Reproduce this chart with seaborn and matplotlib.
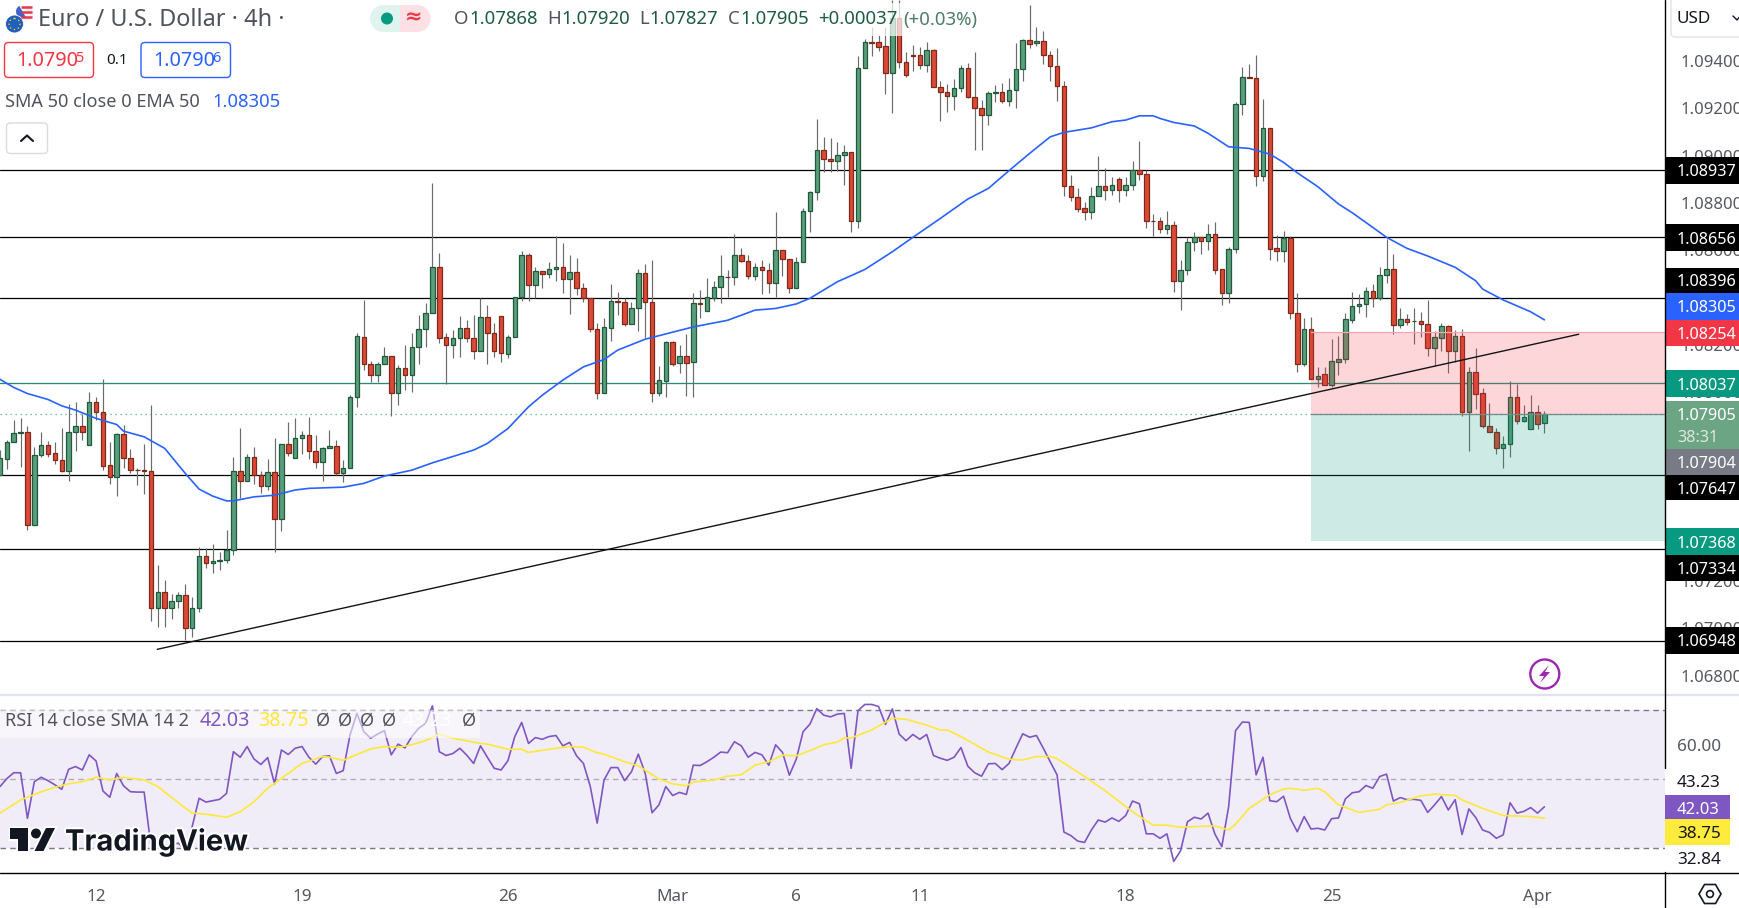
import numpy as np
import pandas as pd
import matplotlib
matplotlib.use("Agg")
import matplotlib.pyplot as plt
from matplotlib.patches import Rectangle, FancyBboxPatch, Circle, Polygon, Wedge
import matplotlib.patheffects as pe
import seaborn as sns

# EURUSD 4h candles, prices in points (1e-5)
opens = [
    107648,107718,107786,107825,107829,107439,107731,107774,107741,107711,
    107667,107829,107855,107774,107956,107914,107690,107639,107821,107719,
    107669,107668,107664,107085,107153,107085,107115,107140,107000,107085,
    107305,107275,107284,107287,107330,107664,107622,107724,107648,107601,
    107660,107464,107779,107719,107804,107817,107749,107702,107762,107770,
    107659,107677,107977,108234,108117,108073,108117,108151,107997,108100,
    108073,108189,108265,108333,108527,108231,108200,108227,108269,108227,
    108171,108316,108248,108320,108162,108231,108400,108578,108451,108510,
    108498,108519,108527,108477,108506,108438,108399,108265,107997,108272,
    108383,108379,108289,108354,108502,108379,107997,108048,108210,108121,
    108151,108125,108375,108344,108399,108443,108486,108485,108578,108553,
    108492,108527,108514,108462,108599,108564,108438,108548,108764,108844,
    109022,108984,108976,109001,109014,108722,109369,109479,109479,109462,
    109351,109580,109394,109424,109424,109384,109445,109291,109270,109253,
    109284,109369,109246,109200,109173,109266,109268,109232,109276,109365,
    109487,109475,109483,109424,109377,109296,108870,108826,108777,108763,
    108828,108870,108856,108899,108853,108874,108937,108921,108722,108721,
    108691,108705,108471,108514,108633,108654,108640,108667,108519,108420,
    108603,109217,109331,109330,108915,109115,108608,108595,108651,108333,
    108117,108265,108056,108076,108031,108128,108138,108306,108362,108371,
    108427,108399,108493,108519,108282,108307,108300,108299,108286,108187,
    108230,108278,108175,108235,107917,108083,107994,107857,107832,107764,
    107781,107977,107879,107841,107914,107868,
]
highs = [
    107755,107797,107882,107889,107856,107769,107831,107793,107786,107848,
    107949,107958,107907,108000,107979,108055,107789,107825,107860,107759,
    107679,107780,107945,107268,107205,107146,107153,107188,107131,107346,
    107339,107357,107323,107416,107725,107848,107738,107767,107667,107717,
    107803,107780,107873,107890,107836,107894,107818,107766,107839,107797,
    107712,107987,108248,108389,108131,108127,108190,108151,108114,108199,
    108248,108326,108375,108884,108587,108251,108262,108322,108305,108326,
    108396,108368,108290,108320,108241,108400,108596,108587,108530,108510,
    108551,108660,108629,108578,108565,108459,108399,108293,108311,108455,
    108424,108399,108382,108519,108540,108558,108110,108216,108217,108199,
    108245,108417,108431,108481,108471,108578,108516,108668,108608,108578,
    108544,108558,108544,108761,108599,108564,108572,108777,108849,109153,
    109078,109073,109056,109043,109014,109421,109493,109545,109510,109545,
    109658,109658,109437,109468,109461,109480,109449,109315,109303,109322,
    109383,109393,109439,109235,109274,109298,109305,109327,109478,109492,
    109637,109545,109525,109441,109454,109315,108918,108861,108805,108866,
    108998,108946,108911,108911,108911,108977,109062,108939,108753,108741,
    108765,108723,108558,108654,108675,108654,108709,108718,108519,108612,
    109225,109375,109387,109425,109239,109115,108664,108681,108660,108417,
    108311,108316,108107,108107,108224,108237,108335,108421,108413,108445,
    108457,108530,108646,108584,108354,108330,108354,108337,108389,108258,
    108290,108283,108262,108265,108107,108185,108015,107952,107846,107814,
    108046,108034,107945,107987,107945,107920,
]
lows = [
    107648,107674,107786,107684,107416,107435,107726,107726,107695,107662,
    107625,107750,107797,107774,107882,107670,107611,107560,107677,107659,
    107607,107569,107031,107007,107007,107038,107084,106951,106965,107067,
    107253,107236,107247,107275,107308,107552,107622,107611,107574,107585,
    107322,107413,107729,107719,107738,107718,107679,107621,107762,107648,
    107617,107677,107938,108093,108042,108042,108117,107899,107945,108008,
    108001,108118,108192,108333,108206,108032,108144,108149,108213,108141,
    108171,108118,108149,108127,108144,108231,108386,108386,108396,108439,
    108481,108471,108417,108331,108408,108382,108255,107969,107997,108217,
    108326,108279,108289,108259,108227,107959,107983,107980,108110,108082,
    107984,107980,108313,108344,108385,108378,108400,108452,108550,108476,
    108474,108414,108417,108403,108491,108420,108438,108548,108678,108812,
    108932,108932,108936,108875,108678,108694,109369,109423,109444,109260,
    109181,109369,109334,109359,109365,109355,109291,109148,109184,109193,
    109270,109242,109025,109025,109129,109227,109224,109210,109201,109317,
    109456,109462,109387,109317,109232,108830,108808,108763,108727,108732,
    108828,108812,108833,108804,108830,108854,108897,108694,108660,108671,
    108668,108424,108347,108495,108598,108584,108600,108499,108366,108375,
    108589,109172,109330,108871,108892,108558,108555,108551,108309,108086,
    108111,108056,108020,108028,108022,108072,108121,108293,108333,108318,
    108361,108389,108459,108244,108269,108283,108204,108234,108154,108111,
    108175,108082,108128,107900,107750,107929,107849,107832,107739,107680,
    107726,107866,107874,107841,107843,107827,
]
closes = [
    107719,107787,107825,107829,107439,107732,107774,107739,107711,107667,
    107829,107855,107829,107956,107914,107688,107639,107821,107719,107669,
    107668,107667,107085,107153,107085,107115,107140,107000,107085,107305,
    107275,107284,107287,107330,107664,107622,107724,107648,107601,107660,
    107464,107779,107741,107804,107817,107749,107703,107762,107770,107659,
    107677,107977,108237,108117,108073,108117,108151,107997,108100,108073,
    108189,108265,108333,108527,108230,108200,108227,108269,108227,108171,
    108316,108248,108175,108164,108231,108400,108578,108451,108510,108498,
    108519,108527,108477,108506,108439,108399,108265,107997,108273,108383,
    108382,108289,108354,108502,108379,107997,108049,108210,108120,108151,
    108124,108375,108374,108400,108443,108489,108485,108578,108553,108492,
    108527,108514,108462,108599,108564,108438,108548,108764,108844,109022,
    108984,108976,109001,109014,108722,109369,109479,109478,109461,109351,
    109580,109394,109342,109423,109384,109445,109291,109270,109253,109284,
    109369,109246,109200,109173,109263,109268,109232,109276,109365,109487,
    109473,109483,109424,109377,109296,108870,108826,108775,108763,108828,
    108870,108856,108874,108853,108874,108937,108921,108722,108721,108691,
    108705,108471,108514,108633,108654,108640,108667,108517,108420,108603,
    109217,109331,109330,108915,109115,108606,108595,108651,108333,108117,
    108265,108056,108068,108031,108130,108138,108307,108362,108371,108427,
    108399,108493,108519,108282,108307,108295,108301,108286,108187,108231,
    108278,108175,108235,107917,108083,107993,107857,107832,107764,107781,
    107977,107879,107893,107914,107866,107905,
]

# EMA 50, read at some bars
ema_bars = [0,2,4,7,9,11,14,17,18,21,24,27,29,31,33,34,37,40,43,45,50,53,56,60,63,69,71,74,77,79,82,85,
            88,90,94,101,106,110,113,116,118,122,126,130,133,137,141,144,147,150,153,155,159,162,164,166,168,169,
            171,174,176,179,182,185,187,189,192,195,197,200,202,205,208,212,215,216,219,223,225]
ema_values = [108053,108019,107993,107968,107941,107923,107888,107862,107834,107810,107761,107655,107589,107559,
              107539,107539,107556,107563,107585,107592,107597,107613,107644,107669,107700,107754,107782,107845,
              107937,107986,108050,108106,108137,108177,108223,108275,108303,108346,108353,108372,108396,108466,
              108518,108593,108654,108734,108816,108861,108936,109009,109079,109098,109117,109143,109150,109168,
              109168,109157,109140,109125,109094,109037,109030,109006,108971,108927,108868,108795,108758,108696,
              108654,108607,108575,108527,108470,108435,108389,108339,108305]

rsi_values = [
    47.9,50.2,51.9,51.9,38.7,49.3,50.6,49.6,48.4,47.1,52.9,53.7,52.7,57.1,55.3,46.6,44.8,51.7,48.1,46.4,
    46.3,46.3,30.5,31.5,30.5,31.0,31.5,29.5,36.3,44.5,43.4,43.8,44.2,45.9,58.0,56.4,59.5,55.9,54.3,56.3,
    48.7,58.5,57.2,59.0,59.5,56.4,54.4,56.6,56.8,51.7,52.5,62.9,69.1,63.8,61.9,63.1,64.1,57.1,60.2,59.1,
    62.4,64.8,66.2,71.3,58.0,56.9,57.5,59.0,57.0,54.6,59.7,56.4,53.2,52.7,55.4,62.4,66.5,60.4,62.1,61.6,
    62.4,62.7,59.7,60.7,56.8,54.6,47.9,37.3,49.8,53.4,53.4,49.6,52.2,57.3,51.7,40.3,42.6,47.9,45.3,46.2,
    45.6,54.1,54.0,55.1,56.4,57.9,57.7,60.9,59.7,56.4,57.8,57.1,54.1,60.0,57.8,51.2,55.8,63.8,66.0,70.5,
    68.6,68.1,68.9,69.1,53.2,69.9,71.7,71.7,71.1,65.9,70.4,63.1,61.2,63.0,61.6,63.0,56.9,56.1,55.5,56.4,
    59.2,53.8,51.9,50.9,54.5,54.6,52.8,54.6,59.0,63.2,62.2,62.7,59.0,55.1,51.3,34.7,33.7,32.1,31.7,35.3,
    38.2,37.6,38.8,37.8,39.5,43.7,42.9,34.2,34.2,32.9,34.2,26.2,29.3,37.7,39.0,38.5,40.2,34.1,30.5,42.1,
    64.1,66.6,66.5,51.3,56.4,43.8,43.5,45.1,38.6,34.8,39.2,35.6,35.8,35.3,38.6,38.8,44.3,46.1,46.4,48.2,
    47.4,50.8,51.5,43.7,44.7,44.1,44.2,43.9,40.4,42.6,45.0,41.1,44.1,34.0,41.4,38.9,35.3,34.6,32.9,33.9,
    43.2,40.2,40.7,41.8,40.2,42.03,
]

# RSI's SMA, read at some bars
sma_bars = [0,3,6,8,10,12,14,16,18,21,23,26,28,30,33,35,37,39,40,42,44,47,48,50,52,54,56,58,60,62,64,66,70,71,74,76,77,81,83,85,
            87,88,91,93,96,98,100,101,104,106,108,110,112,114,116,118,120,122,123,124,127,130,132,135,137,138,140,144,147,149,151,153,154,158,161,165,168,
            170,172,174,177,179,180,182,185,187,188,190,192,193,195,198,201,202,204,207,209,212,213,216,219,223,225]
sma_values = [40.2,44.0,46.4,47.7,48.7,49.3,50.6,49.8,50.6,49.8,47.9,43.2,40.2,39.9,39.0,40.6,43.5,47.4,48.8,51.7,54.6,56.6,56.4,55.5,
              57.2,58.8,59.5,59.3,60.0,61.2,63.1,61.9,60.4,60.2,58.7,58.7,57.8,59.0,59.5,59.3,
              57.7,57.3,55.1,53.9,50.1,48.7,48.1,49.2,49.8,50.9,51.3,54.1,55.1,57.0,56.8,58.3,60.0,60.8,62.0,62.0,64.3,67.7,67.4,65.7,64.3,64.3,62.4,57.9,55.8,55.6,56.6,56.6,56.0,50.8,46.7,40.6,36.7,
              36.7,36.1,36.3,36.5,35.3,37.0,41.6,45.5,47.2,47.4,46.8,47.4,46.4,42.6,40.4,41.3,42.6,43.3,45.2,45.7,45.3,44.0,41.6,39.5,39.2,38.75]

level_prices = [1.08937, 1.08656, 1.08396, 1.07647, 1.07334, 1.06948]
support_price = 1.08037
last_price = 1.07905
stop_price = 1.08254
target_price = 1.07368
trend_bars = [22.9, 230.0]
trend_prices = [1.06911, 1.08244]
price_ticks = [1.068, 1.070, 1.072, 1.074, 1.076, 1.078, 1.080, 1.082, 1.084, 1.086, 1.088, 1.090, 1.092, 1.094]
date_bars = [14, 44, 74, 98, 116, 134, 164, 194, 224]
date_labels = ["12", "19", "26", "Mar", "6", "11", "18", "25", "Apr"]

W, H = 1740, 908
UP_FILL, UP_EDGE = "#5b9e7b", "#1f5a3d"
DOWN_FILL, DOWN_EDGE = "#dc4a35", "#7d2a1c"
GRAY = "#555861"
TEXT = "#50535e"
OHLC_GREEN = "#1e5c42"

sns.set_theme(style="white")
plt.rcParams["font.family"] = ["Noto Sans", "DejaVu Sans"]

fig = plt.figure(figsize=(W / 100, H / 100), dpi=100)
ax = fig.add_axes([0, 1 - 694 / H, 1665 / W, 694 / H])
ax_rsi = fig.add_axes([0, 1 - 872 / H, 1665 / W, (872 - 697) / H])
top = fig.add_axes([0, 0, 1, 1], zorder=10, facecolor="none")
top.set_xlim(0, W)
top.set_ylim(H, 0)
top.axis("off")

candles = pd.DataFrame({"open": opens, "high": highs, "low": lows, "close": closes}) / 1e5
candles["bar"] = np.arange(len(candles))
up = candles[candles["close"] >= candles["open"]]
down = candles[candles["close"] < candles["open"]]

# levels go under the candles
for lv in level_prices:
    ax.axhline(lv, color="black", lw=0.9, zorder=1)
ax.axhline(support_price, color="#2a8a73", lw=0.95, zorder=1)
ax.axhline(last_price, color="#4caf7f", lw=0.9, ls=(0, (1, 3)), zorder=1)

ax.vlines(candles["bar"], candles["low"], candles["high"], color="#6b6b6b", lw=0.85, zorder=2)
ax.bar(up["bar"], up["close"] - up["open"], bottom=up["open"], width=0.66,
       color=UP_FILL, edgecolor=UP_EDGE, linewidth=0.9, zorder=3)
ax.bar(down["bar"], down["open"] - down["close"], bottom=down["close"], width=0.66,
       color=DOWN_FILL, edgecolor=DOWN_EDGE, linewidth=0.9, zorder=3)

# long position tool
ax.fill_between([191, 243], last_price, stop_price, color="#f23645", alpha=0.2, lw=0, zorder=4)
ax.fill_between([191, 243], target_price, last_price, color="#089981", alpha=0.2, lw=0, zorder=4)
ax.plot([191, 243], [stop_price, stop_price], color="#f7a6ad", lw=0.9, zorder=4)
ax.plot([191, 243], [last_price, last_price], color="#6f8f86", lw=0.9, zorder=4)

sns.lineplot(x=ema_bars, y=np.array(ema_values) / 1e5, ax=ax, color="#2962ff", linewidth=1.2,
             estimator=None, errorbar=None, zorder=5)
ax.plot(trend_bars, trend_prices, color="#141414", lw=1.0, zorder=6)

ax.set_xlim(0, 242.57)
ax.set_ylim(1.06722, 1.09658)
ax.set_xticks([])
ax.yaxis.tick_right()
ax.set_yticks(price_ticks)
ax.set_yticklabels([f"{t:.5f}" for t in price_ticks], fontsize=12, color=GRAY)
ax.tick_params(axis="y", length=0, pad=11)
ax.set_xlabel("")
ax.set_ylabel("")
for s in ax.spines.values():
    s.set_visible(False)

# RSI pane
ax_rsi.axhspan(30, 70, color="#7e57c2", alpha=0.1, lw=0, zorder=1)
ax_rsi.axhline(70, color="#787b86", lw=1, ls=(0, (4, 3)), zorder=2)
ax_rsi.axhline(50, color="#b0adbb", lw=1, ls=(0, (4, 3)), zorder=2)
ax_rsi.axhline(30, color="#787b86", lw=1, ls=(0, (4, 3)), zorder=2)
sns.lineplot(x=candles["bar"].to_numpy(), y=rsi_values, ax=ax_rsi, color="#7e57c2", linewidth=1.2,
             estimator=None, errorbar=None, zorder=3)
sns.lineplot(x=sma_bars, y=sma_values, ax=ax_rsi, color="#fde83b", linewidth=1.2,
             estimator=None, errorbar=None, zorder=4)
ax_rsi.set_xlim(0, 242.57)
ax_rsi.set_ylim(23.13, 73.86)
ax_rsi.set_yticks([])
ax_rsi.set_xticks(date_bars)
ax_rsi.set_xticklabels(date_labels, fontsize=12.3, color=GRAY)
ax_rsi.tick_params(axis="x", length=0, pad=12)
ax_rsi.set_xlabel("")
ax_rsi.set_ylabel("")
for s in ax_rsi.spines.values():
    s.set_visible(False)


def label(x, y, s, color=GRAY, size=12.3, weight="normal", ha="left", **kw):
    # digits sit high in the line box, so nudge down
    return top.text(x, y + 2, s, color=color, fontsize=size, fontweight=weight, ha=ha, va="center", **kw)


def box(x0, y0, x1, y1, fc, ec="none", lw=0, alpha=None):
    top.add_patch(Rectangle((x0, y0), x1 - x0, y1 - y0, facecolor=fc, edgecolor=ec, lw=lw, alpha=alpha))


def rounded(x0, y0, x1, y1, ec, fc="white", r=4):
    top.add_patch(FancyBboxPatch((x0 + r, y0 + r), x1 - x0 - 2 * r, y1 - y0 - 2 * r,
                                 boxstyle=f"round,pad={r},rounding_size={r}", fc=fc, ec=ec, lw=1))


# frame lines
top.plot([0, W], [695, 695], color="#e0e3eb", lw=1.6)
top.plot([0, W], [872.5, 872.5], color="black", lw=1.0)
top.plot([1665, 1665], [0, 768], color="black", lw=1.0)
top.plot([1665, 1665], [872, H], color="black", lw=1.0)

# price tags
tags = [
    (157, 184, "black", "1.08937"), (224, 251, "black", "1.08656"), (268, 293, "black", "1.08396"),
    (293, 320, "#2962ff", "1.08305"), (320, 346, "#f23645", "1.08254"), (370, 397, "#089981", "1.08037"),
    (449, 475, "#787b86", "1.07904"), (475, 500, "black", "1.07647"), (528, 555, "#089981", "1.07368"),
    (555, 581, "black", "1.07334"), (627, 654, "black", "1.06948"),
]
for y0, y1, col, s in tags:
    box(1665, y0, W, y1, col)
    label(1677, (y0 + y1) / 2, s, color="white", weight="bold", size=11.7)
box(1665, 401, W, 449, "#6ba583")
label(1677, 414.5, "1.07905", color="white", weight="bold", size=11.7)
label(1677, 436, "38:31", color="#dfe7df", weight="bold", size=11.7)

# USD button
rounded(1671, -6, 1760, 37, "#e0e3eb")
label(1677, 17, "USD", color="#131722", size=12.3)
top.plot([1733, 1737, 1739.5], [16, 20, 17], color="#131722", lw=1)

# RSI scale
label(1677, 745, "60.00")
box(1666, 768, W, 795, "white")
label(1677, 781, "43.23", color="#131722")
box(1665, 795, 1730, 819, "#7e57c2")
label(1677, 807.5, "42.03", color="white", weight="bold", size=12)
box(1665, 819, 1730, 845, "#ffeb3b")
label(1677, 832.5, "38.75", color="#131722")
label(1677, 858, "32.84", color="#131722")

# settings hexagon
top.add_patch(Polygon([(1699, 894), (1704.5, 884.5), (1715.5, 884.5), (1721, 894), (1715.5, 903.5), (1704.5, 903.5)],
                      closed=True, fc="white", ec="#131722", lw=1.2))
top.add_patch(Circle((1710, 894), 3.4, fc="white", ec="#131722", lw=1.2))

# header
top.add_patch(Wedge((25, 13), 8.5, -75, 200, fc="#f3f3f3", ec="none"))
for ys in [7, 12, 17]:
    top.plot([21, 32], [ys, ys], color="#e8384f", lw=1.8, solid_capstyle="butt")
top.add_patch(Wedge((22.5, 11.5), 6.5, 60, 240, fc="#3f63c9", ec="none"))
top.add_patch(Circle((14.5, 24), 9, fc="#1f5fbf", ec="white", lw=0.6))
top.add_patch(Circle((14.5, 24), 5.5, fc="none", ec="#f5c518", lw=1, ls=(0, (1, 2))))
label(38, 17.5, "Euro / U.S. Dollar · 4h ·", color=TEXT, size=16.9)

top.add_patch(Wedge((417, 18.5), 13.5, -90, 90, fc="#fde0e5", ec="none"))
top.add_patch(Wedge((383.5, 18.5), 13.5, 90, 270, fc="#dff3ef", ec="none"))
top.add_patch(Rectangle((383.5, 5), 16.5, 27, fc="#dff3ef", ec="none"))
top.add_patch(Rectangle((400, 5), 17, 27, fc="#fde0e5", ec="none"))
top.add_patch(Circle((387, 18.5), 6, fc="#089981", ec="none"))
label(414, 16, "≈", color="#f23645", size=15, ha="center", weight="bold")

box(450, 3, 985, 36, "white", alpha=0.72)
renderer = fig.canvas.get_renderer()
for xpos, letter, value in [(454, "O", "1.07868"), (547.5, "H", "1.07920"), (639, "L", "1.07827"), (728, "C", "1.07905")]:
    t = label(xpos, 17.5, letter, color=TEXT, size=13.4)
    x1 = top.transData.inverted().transform(t.get_window_extent(renderer).get_points())[1, 0]
    label(x1 + 0.5, 17.5, value, color=OHLC_GREEN, size=13.4)
label(818.6, 17.5, "+0.00037", color=OHLC_GREEN, size=13.4)
label(903.7, 17.5, "(+0.03%)", color=OHLC_GREEN, size=13.4, alpha=0.8)

rounded(4.5, 42.5, 93.5, 77.5, "#f23645")
label(16, 58.5, "1.0790", color="#f23645", size=14.3)
label(75, 56, "5", color="#f23645", size=10.5)
label(117, 58.5, "0.1", color="#131722", size=11, ha="center")
rounded(141, 42.5, 230.5, 77.5, "#2962ff")
label(153, 58.5, "1.0790", color="#2962ff", size=14.3)
label(212, 56, "6", color="#2962ff", size=10.5)

label(5, 100, "SMA 50 close 0 EMA 50", color=TEXT, size=13)
label(212, 100, "1.08305", color="#2962ff", size=13.3)

rounded(6.5, 123, 47.5, 153.5, "#d9dbe1")
top.plot([21, 27, 33], [141, 135.5, 141], color="#131722", lw=1.5)

# RSI legend strip
box(0, 710, 480, 737.5, "white", alpha=0.55)
label(5, 718.5, "RSI 14 close SMA 14 2", color=TEXT, size=13)
label(200, 718.5, "42.03", color="#7e57c2", size=14.2)
label(258, 718.5, "38.75", color="#fde83b", size=14.2, weight="semibold")
for xpos in [316, 338, 360, 382, 462]:
    label(xpos, 718.5, "Ø", color=TEXT, size=13)
label(403, 718.5, "43.23", color="white", size=14)

# bolt marker
top.add_patch(Circle((1544.8, 674), 14.5, fc="white", ec="#9c27b0", lw=1.7))
top.add_patch(Polygon([(1549, 665), (1539, 676), (1544, 676), (1540, 683), (1550, 672), (1545, 672)],
                      closed=True, fc="#9c27b0", ec="none"))

# logo
logo = dict(fc="#131722", ec="none")
halo = [pe.withStroke(linewidth=2.5, foreground="white")]
for shape in [Polygon([(10, 828), (28, 828), (28, 851), (18, 851), (18, 838.5), (10, 838.5)], closed=True, **logo),
              Circle((36, 833.5), 5, **logo),
              Polygon([(46, 828), (55, 828), (43.5, 851), (34.5, 851)], closed=True, **logo)]:
    shape.set_path_effects(halo)
    top.add_patch(shape)
label(65, 840.5, "TradingView", color="#131722", size=21, weight="bold", family=["Inter", "Noto Sans"],
      path_effects=[pe.withStroke(linewidth=3, foreground="white")])

fig.savefig("out.png", dpi=100)
